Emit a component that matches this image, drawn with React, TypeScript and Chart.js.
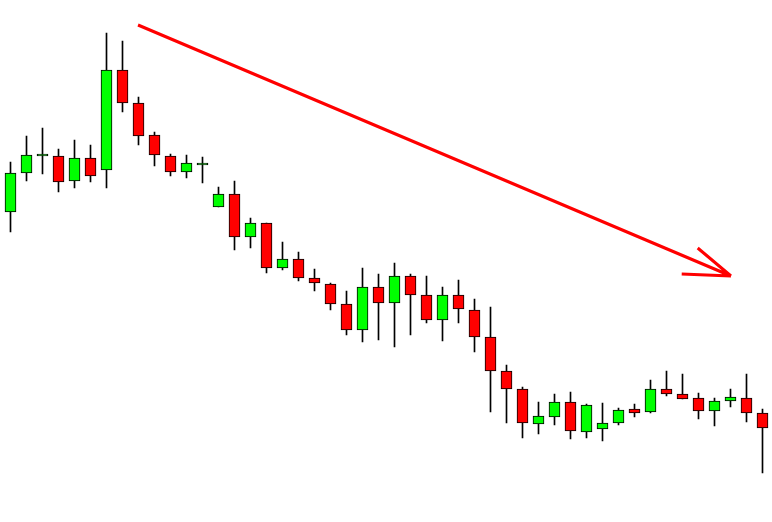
import React, { useEffect, useRef } from "react";
import { Chart, registerables } from "chart.js";

Chart.register(...registerables);

// Candle values (arbitrary price units, higher = up)
const labels: string[] = Array.from({ length: 48 }, (_, i) => String(i + 1));
const opens: number[] = [310, 349, 366, 366, 341, 364, 352, 452, 419, 387, 366, 350, 357, 315, 328, 285, 299, 254, 263, 244, 238, 218, 192, 235, 219, 246, 227, 202, 227, 212, 185, 151, 133, 98, 105, 120, 90, 93, 99, 113, 110, 133, 128, 124, 111, 121, 124, 109];
const highs: number[] = [360, 386, 394, 373, 382, 377, 489, 481, 425, 390, 368, 367, 365, 335, 341, 304, 299, 280, 270, 253, 239, 231, 254, 248, 259, 248, 246, 235, 242, 223, 215, 157, 135, 120, 128, 130, 118, 119, 114, 118, 142, 151, 148, 129, 124, 133, 148, 113];
const lows: number[] = [290, 341, 348, 330, 334, 340, 334, 410, 377, 356, 346, 344, 339, 315, 272, 274, 249, 252, 241, 231, 212, 187, 180, 182, 175, 187, 199, 181, 199, 170, 110, 99, 84, 88, 97, 83, 84, 81, 97, 105, 109, 126, 123, 103, 96, 115, 100, 49];
const closes: number[] = [349, 367, 368, 340, 364, 346, 452, 419, 386, 367, 350, 359, 359, 328, 285, 299, 254, 263, 244, 239, 218, 192, 235, 219, 246, 227, 202, 227, 213, 185, 151, 133, 99, 106, 120, 91, 117, 99, 112, 109, 133, 128, 123, 111, 121, 125, 109, 94];

// Trend arrow in (category index, value) coordinates
const arrowStart = { x: 7.97, y: 497 };
const arrowTip = { x: 45.03, y: 246 };
const arrowWingUpper = { x: 42.95, y: 274 };
const arrowWingLower = { x: 41.95, y: 248 };

const arrowPlugin = {
  id: "trendArrow",
  afterDatasetsDraw(chart: any) {
    const xs = chart.scales.x;
    const ys = chart.scales.y;
    const p = (pt: { x: number; y: number }) => [xs.getPixelForValue(pt.x), ys.getPixelForValue(pt.y)];
    const ctx = chart.ctx;
    ctx.save();
    ctx.strokeStyle = "#ff0000";
    ctx.lineWidth = 3;
    ctx.lineCap = "butt";
    const [sx, sy] = p(arrowStart);
    const [tx, ty] = p(arrowTip);
    const [ux, uy] = p(arrowWingUpper);
    const [lx, ly] = p(arrowWingLower);
    ctx.beginPath();
    ctx.moveTo(sx, sy);
    ctx.lineTo(tx, ty);
    ctx.moveTo(ux, uy);
    ctx.lineTo(tx, ty);
    ctx.moveTo(lx, ly);
    ctx.lineTo(tx, ty);
    ctx.stroke();
    ctx.restore();
  },
};

export default function App() {
  const ref = useRef<HTMLCanvasElement | null>(null);
  useEffect(() => {
    if (!ref.current) return;
    const bodies = opens.map((o, i) => [o, closes[i]]);
    const wicks = lows.map((l, i) => [l, highs[i]]);
    const bodyColors = opens.map((o, i) => (closes[i] >= o ? "#00ff00" : "#ff0000"));
    const chart = new Chart(ref.current, {
      type: "bar",
      data: {
        labels,
        datasets: [
          {
            label: "body",
            data: bodies as any,
            backgroundColor: bodyColors,
            borderColor: "#000000",
            borderWidth: 1,
            borderSkipped: false,
            barThickness: 11,
            grouped: false,
            order: 0,
          },
          {
            label: "wick",
            data: wicks as any,
            backgroundColor: "#000000",
            borderWidth: 0,
            barThickness: 1,
            grouped: false,
            order: 1,
          },
        ],
      },
      options: {
        animation: false,
        responsive: false,
        maintainAspectRatio: false,
        layout: { padding: { left: 2.5, right: 1.5, top: 0, bottom: 0 } },
        plugins: { legend: { display: false }, tooltip: { enabled: false } },
        scales: {
          x: { display: false, offset: true },
          y: { display: false, min: 0, max: 522 },
        },
      },
      plugins: [arrowPlugin],
    });
    return () => chart.destroy();
  }, []);
  return (
    <div style={{ position: "absolute", left: 0, top: 0, width: 772, height: 522, background: "#ffffff" }}>
      <canvas ref={ref} width={772} height={522} />
    </div>
  );
}
